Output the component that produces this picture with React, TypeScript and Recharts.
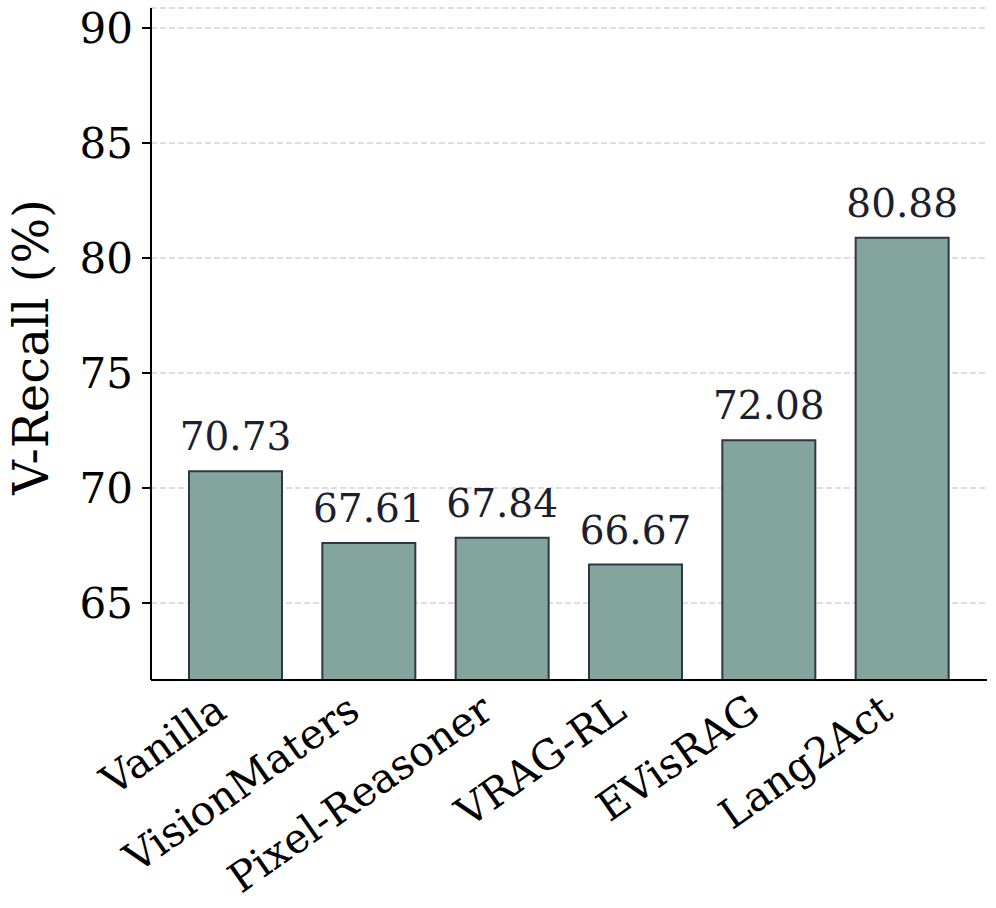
import React from "react";
import {
  BarChart,
  Bar,
  XAxis,
  YAxis,
  CartesianGrid,
  LabelList,
  Label,
} from "recharts";

const methods = [
  "Vanilla",
  "VisionMaters",
  "Pixel-Reasoner",
  "VRAG-RL",
  "EVisRAG",
  "Lang2Act",
];
const vRecall = [70.73, 67.61, 67.84, 66.67, 72.08, 80.88];
const yTicks = [65, 70, 75, 80, 85, 90];

const data = methods.map((name, i) => ({ name, value: vRecall[i] }));

const FONT = "'DejaVu Serif', serif";

const XTick = (props: any) => {
  const { x, y, payload } = props;
  const ax = x - 7;
  const ay = y + 36;
  return (
    <text
      x={ax}
      y={ay}
      textAnchor="end"
      transform={`rotate(-35 ${ax} ${ay})`}
      fontFamily={FONT}
      fontSize={41}
      fill="#000"
    >
      {payload.value}
    </text>
  );
};

const ValueLabel = (props: any) => {
  const { x, y, width, value } = props;
  return (
    <text
      x={x + width / 2}
      y={y - 21}
      textAnchor="middle"
      fontFamily={FONT}
      fontSize={39}
      fill="#1a202c"
    >
      {Number(value).toFixed(2)}
    </text>
  );
};

const YTitle = () => (
  <text
    x={31}
    y={347}
    textAnchor="middle"
    dominantBaseline="central"
    transform="rotate(-90 31 347)"
    fontFamily={FONT}
    fontSize={48}
    fill="#000"
  >
    V-Recall (%)
  </text>
);

export default function App() {
  return (
    <div style={{ position: "absolute", left: 0, top: 0, width: 996, height: 908, background: "#fff" }}>
      <BarChart
        width={996}
        height={908}
        data={data}
        margin={{ top: 8, right: 9, left: 0, bottom: 0 }}
        barCategoryGap={0}
      >
        <CartesianGrid
          vertical={false}
          stroke="#d4d4d4"
          strokeWidth={1.5}
          strokeDasharray="6 3"
        />
        <XAxis
          dataKey="name"
          height={228}
          interval={0}
          tickLine={false}
          tickSize={0}
          tickMargin={0}
          padding={{ left: 18, right: 18 }}
          axisLine={{ stroke: "#000", strokeWidth: 2 }}
          tick={<XTick />}
        />
        <YAxis
          width={151}
          domain={[61.65, 90.87]}
          ticks={yTicks}
          allowDataOverflow
          tickSize={9}
          tickMargin={9}
          axisLine={{ stroke: "#000", strokeWidth: 2 }}
          tickLine={{ stroke: "#000", strokeWidth: 2 }}
          tick={{ fontFamily: FONT, fontSize: 42, fill: "#000" }}
        >
          <Label content={<YTitle />} />
        </YAxis>
        <Bar
          dataKey="value"
          barSize={93}
          fill="#84a59d"
          stroke="#2d3748"
          strokeWidth={2}
          isAnimationActive={false}
        >
          <LabelList dataKey="value" content={<ValueLabel />} />
        </Bar>
      </BarChart>
    </div>
  );
}
